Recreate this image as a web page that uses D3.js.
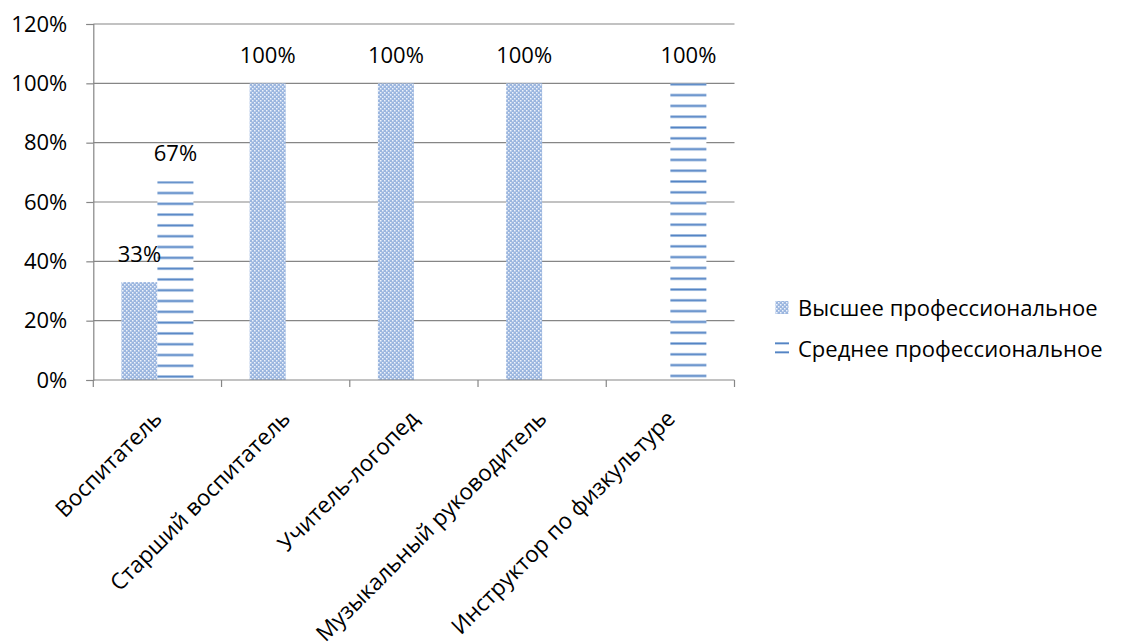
<!DOCTYPE html>
<html><head><meta charset="utf-8">
<script src="https://cdn.jsdelivr.net/npm/d3@7"></script>
<style>
body{margin:0;background:#fff;}
text{font-family:"Open Sans",sans-serif;fill:#000;}
</style></head>
<body><svg id="c" width="1121" height="643"></svg>
<script>
const categories = ["Воспитатель","Старший воспитатель","Учитель-логопед","Музыкальный руководитель","Инструктор по физкультуре"];
const seriesNames = ["Высшее профессиональное","Среднее профессиональное"];
const higher = [0.33, 1, 1, 1, 0];
const secondary = [0.67, 0, 0, 0, 1];
const labelsHigher = ["33%","100%","100%","100%",null];
const labelsSecondary = ["67%",null,null,null,"100%"];
const yTicks = [0,0.2,0.4,0.6,0.8,1.0,1.2];

const svg = d3.select("#c");
const fs = 22;
const x = d3.scaleBand().domain(categories).range([93.3,734.5]).paddingInner(0).paddingOuter(0);
const y = d3.scaleLinear().domain([0,1.2]).range([380,24]);
const groupW = 72, barW = groupW/2;
const period = 10.8;

const defs = svg.append("defs");
const p1 = defs.append("pattern").attr("id","chk").attr("patternUnits","userSpaceOnUse").attr("width",4).attr("height",4);
p1.append("rect").attr("width",4).attr("height",4).attr("fill","#9bb6df");
p1.append("rect").attr("x",0).attr("y",0).attr("width",1.5).attr("height",1.5).attr("fill","#eef3fb");
p1.append("rect").attr("x",2).attr("y",2).attr("width",1.5).attr("height",1.5).attr("fill","#eef3fb");

function linePattern(id, top) {
  const p = defs.append("pattern").attr("id",id).attr("patternUnits","userSpaceOnUse")
    .attr("width",8).attr("height",period).attr("y",top-0.5);
  p.append("rect").attr("width",8).attr("height",period).attr("fill","#fff");
  p.append("rect").attr("y",0).attr("width",8).attr("height",3).attr("fill","#bcd0ea");
  p.append("rect").attr("y",0.7).attr("width",8).attr("height",1.6).attr("fill","#5484c4");
}

// gridlines
svg.append("g").selectAll("line").data(yTicks.filter(d=>d>0)).join("line")
  .attr("x1",93.3).attr("x2",734.5).attr("y1",d=>y(d)).attr("y2",d=>y(d))
  .attr("stroke","#868686").attr("stroke-width",1.2);

// axes
const yAxis = d3.axisLeft(y).tickValues(yTicks).tickFormat(d3.format(".0%")).tickSize(7).tickPadding(19);
const gy = svg.append("g").attr("transform","translate(93.3,0)").call(yAxis);
gy.select(".domain").attr("stroke","#868686").attr("stroke-width",1.2);
gy.selectAll(".tick line").attr("stroke","#868686").attr("stroke-width",1.2);
gy.selectAll("text").style("font-size",fs+"px").attr("fill","#000").attr("font-family","Open Sans");

// bars
const gb = svg.append("g");
categories.forEach((c,i)=>{
  const cx = x(c) + x.bandwidth()/2;
  if (higher[i] > 0) {
    gb.append("rect").attr("x",cx-groupW/2).attr("width",barW)
      .attr("y",y(higher[i])).attr("height",y(0)-y(higher[i])).attr("fill","url(#chk)");
  }
  if (secondary[i] > 0) {
    linePattern("hln"+i, y(secondary[i]));
    gb.append("rect").attr("x",cx).attr("width",barW)
      .attr("y",y(secondary[i])).attr("height",y(0)-y(secondary[i])).attr("fill",`url(#hln${i})`);
  }
  if (labelsHigher[i]) {
    svg.append("text").attr("x",cx-groupW/4).attr("y",y(higher[i])-20)
      .attr("text-anchor","middle").style("font-size",fs+"px").text(labelsHigher[i]);
  }
  if (labelsSecondary[i]) {
    svg.append("text").attr("x",cx+groupW/4).attr("y",y(secondary[i])-20)
      .attr("text-anchor","middle").style("font-size",fs+"px").text(labelsSecondary[i]);
  }
});

// x axis
const gx = svg.append("g").attr("transform","translate(0,380)");
gx.append("line").attr("x1",93.3).attr("x2",734.5).attr("stroke","#868686").attr("stroke-width",1.2);
const bounds = categories.map(c=>x(c)).concat([x.range()[1]]);
gx.selectAll("line.tk").data(bounds).join("line").attr("class","tk")
  .attr("x1",d=>d).attr("x2",d=>d).attr("y1",0).attr("y2",7).attr("stroke","#868686").attr("stroke-width",1.2);
gx.selectAll("text").data(categories).join("text")
  .attr("transform",d=>`translate(${x(d)+x.bandwidth()/2+6},40) rotate(-45)`)
  .attr("text-anchor","end").style("font-size","22.5px").text(d=>d);

// legend
const lg = svg.append("g");
lg.append("rect").attr("x",775.5).attr("y",301).attr("width",13).attr("height",13).attr("fill","url(#chk)");
lg.append("text").attr("x",798).attr("y",315.5).style("font-size",fs+"px").text(seriesNames[0]);
const p3 = lg.append("g");
[342, 351].forEach(yy=>{
  p3.append("rect").attr("x",775).attr("y",yy).attr("width",14).attr("height",2.6).attr("fill","#bcd0ea");
  p3.append("rect").attr("x",775).attr("y",yy+0.6).attr("width",14).attr("height",1.5).attr("fill","#5484c4");
});
lg.append("text").attr("x",798).attr("y",357).style("font-size",fs+"px").text(seriesNames[1]);
</script></body></html>
